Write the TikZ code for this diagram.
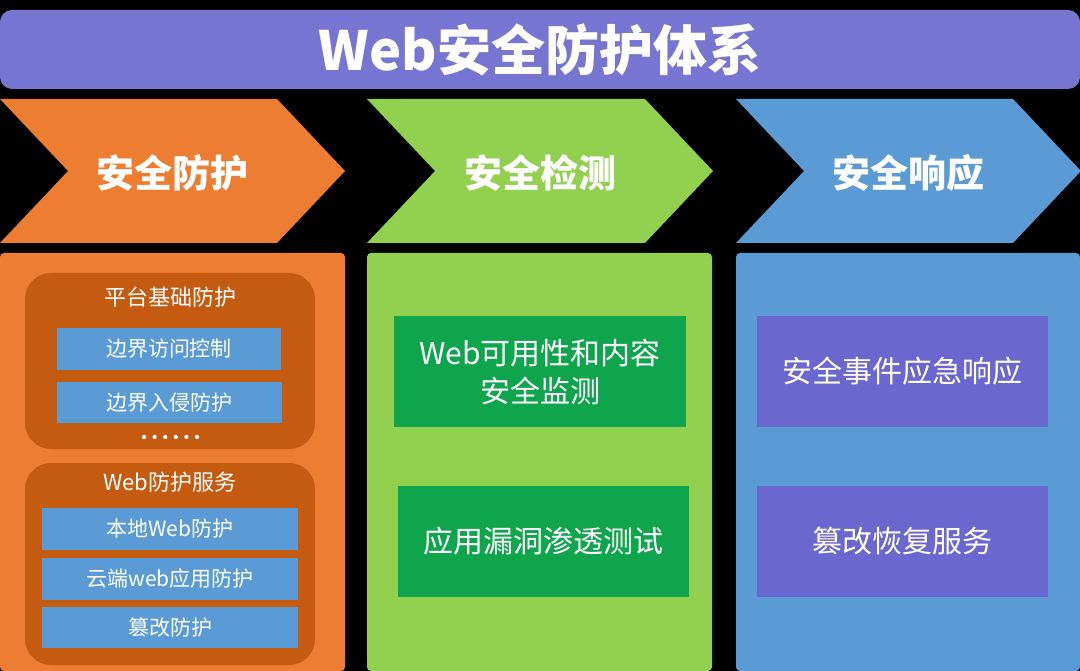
\documentclass[tikz,border=0pt]{standalone}
\usepackage{fontspec}
\setmainfont{Noto Sans CJK SC}
\definecolor{titlebg}{HTML}{7676D2}
\definecolor{orng}{HTML}{ED7D31}
\definecolor{dorng}{HTML}{C55A11}
\definecolor{grn}{HTML}{92D050}
\definecolor{dgrn}{HTML}{0FA54C}
\definecolor{blu}{HTML}{5B9BD5}
\definecolor{purp}{HTML}{6A68CE}
\tikzset{
  box/.style={rectangle, inner sep=0pt, text=white, align=center},
  panel/.style={box, rounded corners=4pt},
  group/.style={box, rounded corners=26pt, fill=dorng},
  smallbox/.style={box, fill=blu, font=\fontsize{21}{25}\selectfont},
  bigbox/.style={box, font=\fontsize{30}{38}\selectfont},
  head/.style={text=white, font=\bfseries\fontsize{38}{44}\selectfont},
  chev/.style={draw=none}
}
\begin{document}
\begin{tikzpicture}[x=1pt, y=-1pt]
\useasboundingbox (0,0) rectangle (1080,671);
\fill[black] (0,0) rectangle (1080,671);
% title
\node[box, fill=titlebg, rounded corners=12pt, minimum width=1080, minimum height=79,
      font=\bfseries\fontsize{54}{60}\selectfont] (title) at (540,49.5) {Web安全防护体系};
% chevrons
\fill[orng] (0,99) -- (277,99) -- (345,171) -- (277,243) -- (0,243) -- (68,171) -- cycle;
\fill[grn] (367,99) -- (645,99) -- (713,171) -- (645,243) -- (367,243) -- (435,171) -- cycle;
\fill[blu] (736,99) -- (1013,99) -- (1081,171) -- (1013,243) -- (736,243) -- (804,171) -- cycle;
\node[head] (h1) at (172,173) {安全防护};
\node[head] (h2) at (540,173) {安全检测};
\node[head] (h3) at (908,173) {安全响应};
% panels
\node[panel, fill=orng, minimum width=345, minimum height=418] (p1) at (172.5,462) {};
\node[panel, fill=grn, minimum width=345, minimum height=418] (p2) at (539.5,462) {};
\node[panel, fill=blu, minimum width=344, minimum height=418] (p3) at (908,462) {};
% left column groups
\node[group, minimum width=290, minimum height=176] (g1) at (170,361) {};
\node[text=white, font=\fontsize{22}{26}\selectfont] (g1t) at (170,297) {平台基础防护};
\node[smallbox, minimum width=224, minimum height=42] (b1) at (169,349) {边界访问控制};
\node[smallbox, minimum width=225, minimum height=41] (b2) at (169.5,402.5) {边界入侵防护};
\foreach \i in {0,...,5} {
  \fill[white] (144+\i*10.6,437) circle (2.1);
}
\node[group, minimum width=290, minimum height=202] (g2) at (170,564) {};
\node[text=white, font=\fontsize{22}{26}\selectfont] (g2t) at (170,482) {Web防护服务};
\node[smallbox, minimum width=256, minimum height=42] (b3) at (170,529) {本地Web防护};
\node[smallbox, minimum width=256, minimum height=42] (b4) at (170,579) {云端web应用防护};
\node[smallbox, minimum width=256, minimum height=41] (b5) at (170,627.5) {篡改防护};
% green column
\node[bigbox, fill=dgrn, minimum width=292, minimum height=111] (c1) at (540,371.5) {Web可用性和内容\\安全监测};
\node[bigbox, fill=dgrn, minimum width=291, minimum height=111] (c2) at (543.5,541.5) {应用漏洞渗透测试};
% blue column
\node[bigbox, fill=purp, minimum width=291, minimum height=111] (r1) at (902.5,371.5) {安全事件应急响应};
\node[bigbox, fill=purp, minimum width=291, minimum height=111] (r2) at (902.5,541.5) {篡改恢复服务};
\end{tikzpicture}
\end{document}
